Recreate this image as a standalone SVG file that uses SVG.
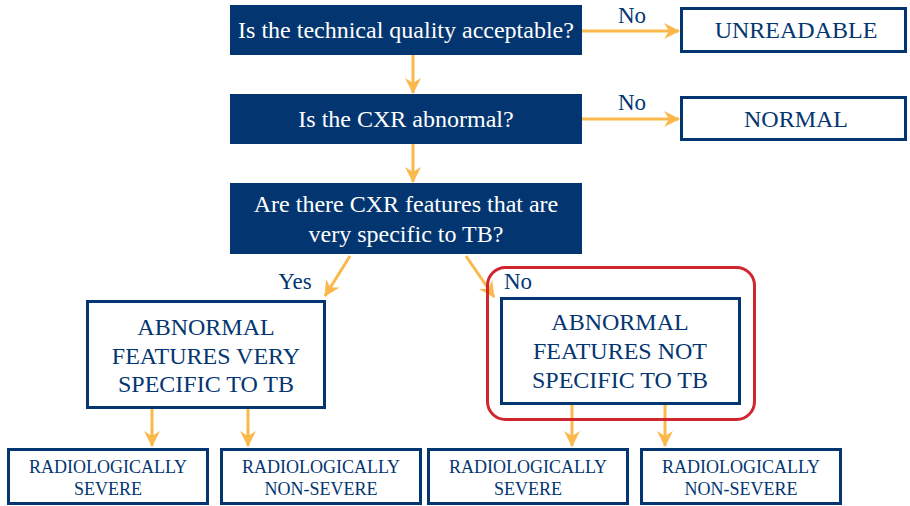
<svg xmlns="http://www.w3.org/2000/svg" width="910" height="506" viewBox="0 0 910 506">
<defs>
<style>
text{font-family:"Liberation Serif","Times New Roman",serif}
.q{fill:#033671}
.qt{fill:#fff;font-size:24px;text-anchor:middle}
.b{fill:#fff;stroke:#033671;stroke-width:3}
.bt{fill:#033671;font-size:24px;text-anchor:middle}
.st{fill:#033671;font-size:18px;text-anchor:middle}
.lb{fill:#033671;font-size:23px}
.c{stroke:#fbb84b;stroke-width:3;fill:none;marker-end:url(#ah)}
</style>
<marker id="ah" viewBox="-20 -10 22 20" refX="0" refY="0" markerWidth="22" markerHeight="20" markerUnits="userSpaceOnUse" orient="auto" overflow="visible">
<path d="M-15,-8 L1,0 L-15,8 L-10,0 Z" fill="#fbb84b"/>
</marker>
</defs>
<g id="connectors">
<path class="c" d="M582,31 L679,31"/>
<path class="c" d="M582,119 L679,119"/>
<path class="c" d="M413,55 L413,93"/>
<path class="c" d="M413,144 L413,182"/>
<path class="c" d="M350,256 L325,296"/>
<path class="c" d="M466,256 L494,297"/>
<path class="c" d="M152,408 L152,446"/>
<path class="c" d="M248,408 L248,446"/>
<path class="c" d="M572,404 L572,446"/>
<path class="c" d="M665,404 L665,446"/>
</g>
<g id="labels">
<text class="lb" x="632" y="23" text-anchor="middle">No</text>
<text class="lb" x="632" y="110" text-anchor="middle">No</text>
<text class="lb" x="295" y="289" text-anchor="middle">Yes</text>
<text class="lb" x="504" y="289">No</text>
</g>
<g id="q1"><rect class="q" x="230" y="5" width="352" height="50"/><text class="qt" x="406" y="38">Is the technical quality acceptable?</text></g>
<g id="q2"><rect class="q" x="230" y="94" width="352" height="50"/><text class="qt" x="406" y="127">Is the CXR abnormal?</text></g>
<g id="q3"><rect class="q" x="230" y="183" width="352" height="71"/><text class="qt" x="406" y="212">Are there CXR features that are</text><text class="qt" x="406" y="242">very specific to TB?</text></g>
<g id="unreadable"><rect class="b" x="681.5" y="8.5" width="224" height="43"/><text class="bt" x="796" y="38">UNREADABLE</text></g>
<g id="normal"><rect class="b" x="681.5" y="97.5" width="224" height="42"/><text class="bt" x="796" y="127">NORMAL</text></g>
<g id="highlight"><rect x="487.5" y="267.5" width="267" height="152" rx="18" fill="none" stroke="#d0262d" stroke-width="3"/></g>
<g id="specific"><rect class="b" x="87.5" y="301.5" width="237" height="106"/><text class="bt" x="206" y="335">ABNORMAL</text><text class="bt" x="206" y="364">FEATURES VERY</text><text class="bt" x="206" y="392">SPECIFIC TO TB</text></g>
<g id="notspecific"><rect class="b" x="501.5" y="298.5" width="238" height="105"/><text class="bt" x="620" y="330">ABNORMAL</text><text class="bt" x="620" y="359">FEATURES NOT</text><text class="bt" x="620" y="388">SPECIFIC TO TB</text></g>
<g id="sev1"><rect class="b" x="8.5" y="449.5" width="199" height="54"/><text class="st" x="108" y="473">RADIOLOGICALLY</text><text class="st" x="108" y="495">SEVERE</text></g>
<g id="nonsev1"><rect class="b" x="221.5" y="449.5" width="199" height="54"/><text class="st" x="321" y="473">RADIOLOGICALLY</text><text class="st" x="321" y="495">NON-SEVERE</text></g>
<g id="sev2"><rect class="b" x="428.5" y="449.5" width="199" height="54"/><text class="st" x="528" y="473">RADIOLOGICALLY</text><text class="st" x="528" y="495">SEVERE</text></g>
<g id="nonsev2"><rect class="b" x="641.5" y="449.5" width="199" height="54"/><text class="st" x="741" y="473">RADIOLOGICALLY</text><text class="st" x="741" y="495">NON-SEVERE</text></g>
</svg>
